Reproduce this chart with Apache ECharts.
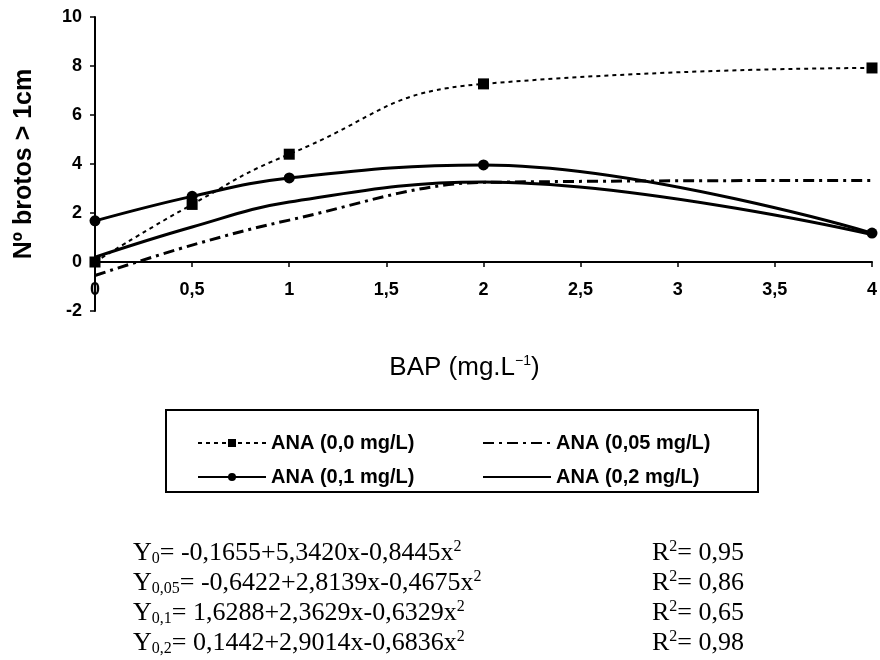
<!DOCTYPE html>
<html>
<head>
<meta charset="utf-8">
<script src="https://cdn.jsdelivr.net/npm/echarts@6/dist/echarts.min.js"></script>
<style>
    html, body { margin: 0; padding: 0; background: #fff; }
    #Chart { width: 880px; height: 660px; }
</style>
</head>
<body>
<div id="Chart"></div>
<script>
// Doses de BAP (mg/L)
var bap = [0, 0.5, 1, 2, 4];

// Nombre de pousses > 1cm, une série par dose d'ANA
var ana00 = [0.0, 2.35, 4.4, 7.27, 7.92];
var ana005 = [-0.55, 0.69, 1.71, 3.25, 3.33];
var ana01 = [1.68, 2.68, 3.43, 3.96, 1.18];
var ana02 = [0.2, 1.43, 2.45, 3.27, 1.12];

var seriesNames = ['ANA (0,0 mg/L)', 'ANA (0,05 mg/L)', 'ANA (0,1 mg/L)', 'ANA (0,2 mg/L)'];

// Equations de régression affichées sous le graphique
var eqSub = ['0', '0,05', '0,1', '0,2'];
var eqBody = ['= -0,1655+5,3420x-0,8445x', '= -0,6422+2,8139x-0,4675x', '= 1,6288+2,3629x-0,6329x', '= 0,1442+2,9014x-0,6836x'];
var rSquared = ['0,95', '0,86', '0,65', '0,98'];

function toPoints(values) {
    return bap.map(function (x, i) { return [x, values[i]]; });
}

function comma(value) {
    return String(value).replace('.', ',');
}

var chartDom = document.getElementById('Chart');
var myChart = echarts.init(chartDom);

var serif = "'Liberation Serif', 'Times New Roman', serif";
var sans = "'Liberation Sans', Arial, sans-serif";

// Lignes des équations (texte riche pour indices / exposants)
var eqGraphics = [];
var eqRich = {
    t: { fontFamily: serif, fontSize: 26, lineHeight: 28, color: '#000' },
    sub: { fontFamily: serif, fontSize: 16, lineHeight: 16, verticalAlign: 'bottom', color: '#000' },
    sup: { fontFamily: serif, fontSize: 16, lineHeight: 16, verticalAlign: 'top', color: '#000' }
};
for (var i = 0; i < eqBody.length; i++) {
    eqGraphics.push({
        type: 'text',
        x: 133,
        y: 553 + i * 30,
        style: {
            text: '{t|Y}{sub|' + eqSub[i] + '}{t|' + eqBody[i] + '}{sup|2}',
            rich: eqRich,
            verticalAlign: 'middle'
        }
    });
    eqGraphics.push({
        type: 'text',
        x: 652,
        y: 553 + i * 30,
        style: {
            text: '{t|R}{sup|2}{t|= ' + rSquared[i] + '}',
            rich: eqRich,
            verticalAlign: 'middle'
        }
    });
}
// Cadre de la légende
eqGraphics.push({
    type: 'rect',
    shape: { x: 166, y: 410, width: 592, height: 82 },
    style: { fill: 'none', stroke: '#000', lineWidth: 2 }
});

var legendText = { fontFamily: sans, fontSize: 20, fontWeight: 'bold', color: '#000', lineHeight: 20 };
var hiddenSymbol = { opacity: 0 };

var option = {
    backgroundColor: '#fff',
    animation: false,
    grid: { left: 95, right: 7, top: 17, bottom: 349 },
    legend: [
        {
            data: [seriesNames[0], seriesNames[2]],
            orient: 'vertical',
            left: 197,
            top: 433,
            padding: 0,
            itemWidth: 68,
            itemHeight: 10,
            itemGap: 14,
            textStyle: legendText
        },
        {
            data: [
                { name: seriesNames[1], itemStyle: hiddenSymbol },
                { name: seriesNames[3], itemStyle: hiddenSymbol }
            ],
            orient: 'vertical',
            left: 482,
            top: 433,
            padding: 0,
            itemWidth: 68,
            itemHeight: 10,
            itemGap: 14,
            textStyle: legendText
        }
    ],
    xAxis: {
        type: 'value',
        min: 0,
        max: 4,
        interval: 0.5,
        name: '{a|BAP (mg.L}{s|−1}{a|)}',
        nameLocation: 'middle',
        nameGap: 43,
        nameTextStyle: {
            padding: [0, 38, 0, 0],
            rich: {
                a: { fontFamily: sans, fontSize: 26, lineHeight: 28, color: '#000' },
                s: { fontFamily: sans, fontSize: 14, lineHeight: 14, verticalAlign: 'top', color: '#000' }
            }
        },
        axisLine: { onZero: true, lineStyle: { color: '#000', width: 2 } },
        axisTick: { show: true, length: 5, lineStyle: { color: '#000', width: 1.5 } },
        axisLabel: {
            margin: -30,
            fontFamily: sans,
            fontSize: 18,
            fontWeight: 'bold',
            color: '#000',
            formatter: comma
        },
        splitLine: { show: false }
    },
    yAxis: {
        type: 'value',
        min: -2,
        max: 10,
        interval: 2,
        name: 'Nº brotos > 1cm',
        nameLocation: 'middle',
        nameGap: 58,
        nameTextStyle: { fontFamily: sans, fontSize: 25, fontWeight: 'bold', color: '#000' },
        axisLine: { show: true, onZero: false, lineStyle: { color: '#000', width: 2 } },
        axisTick: { show: true, length: 5, lineStyle: { color: '#000', width: 1.5 } },
        axisLabel: {
            margin: 13,
            fontFamily: sans,
            fontSize: 18,
            fontWeight: 'bold',
            color: '#000'
        },
        splitLine: { show: false }
    },
    series: [
        {
            name: seriesNames[0],
            type: 'line',
            data: toPoints(ana00),
            smooth: 0.5,
            symbol: 'rect',
            symbolSize: 11,
            itemStyle: { color: '#000' },
            lineStyle: { color: '#000', width: 2, type: [4, 4] }
        },
        {
            name: seriesNames[1],
            type: 'line',
            data: toPoints(ana005),
            smooth: 0.35,
            symbol: 'none',
            itemStyle: { color: '#000' },
            lineStyle: { color: '#000', width: 3, type: [11, 5, 3, 5] }
        },
        {
            name: seriesNames[2],
            type: 'line',
            data: toPoints(ana01),
            smooth: 0.4,
            symbol: 'circle',
            symbolSize: 11,
            itemStyle: { color: '#000' },
            lineStyle: { color: '#000', width: 3 }
        },
        {
            name: seriesNames[3],
            type: 'line',
            data: toPoints(ana02),
            smooth: 0.4,
            symbol: 'none',
            itemStyle: { color: '#000' },
            lineStyle: { color: '#000', width: 3 }
        }
    ],
    graphic: eqGraphics
};

myChart.setOption(option);
</script>
</body>
</html>
